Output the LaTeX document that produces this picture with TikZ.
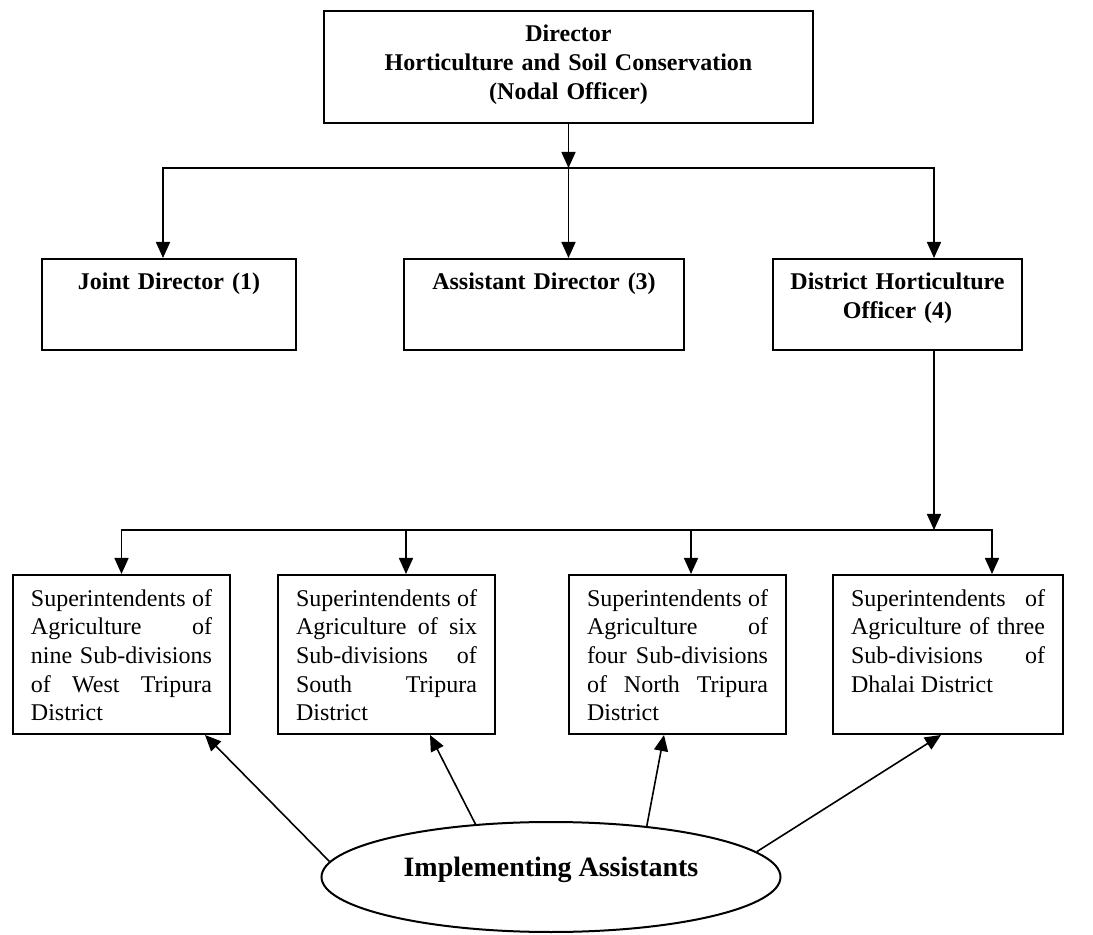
\documentclass[tikz,border=0pt]{standalone}
\usepackage{fontspec}
\setmainfont{Liberation Serif}
\usetikzlibrary{arrows.meta,shapes.geometric}
\tolerance=10000
\hbadness=10000

\begin{document}
\begin{tikzpicture}[x=0.5pt, y=-0.5pt,
    box/.style={draw, line width=1pt, rectangle, inner ysep=0pt, text height=15.5pt, anchor=north west},
    head/.style={box, inner xsep=0pt, align=center, font=\fontsize{12}{14.35}\selectfont\bfseries},
    unit/.style={box, inner xsep=9pt, align=justify, text width=90.5pt, text depth=64pt, font=\fontsize{12}{14.35}\selectfont},
    conn/.style={line width=0.8pt, -{Triangle[length=8pt,width=7pt]}}]

\useasboundingbox (0,0) rectangle (1093,935);

% Nodal officer and the three offices under him
\node[head, text width=244.5pt, text depth=40.5pt] (dir) at (323,10) {Director\\Horticulture and Soil Conservation\\(Nodal Officer)};
\node[head, text width=127pt, text depth=30pt] (jd) at (41,258) {Joint Director (1)};
\node[head, text width=140pt, text depth=30pt] (ad) at (403,258) {Assistant Director (3)};
\node[head, text width=124.5pt, text depth=30pt] (dho) at (772,258) {District Horticulture\\Officer (4)};

% Superintendents of the four districts
\node[unit] (s1) at (12,574) {Superintendents of\linebreak Agriculture of\linebreak nine Sub-divisions\linebreak of West Tripura\linebreak District};
\node[unit] (s2) at (277,574) {Superintendents of\linebreak Agriculture of six\linebreak Sub-divisions of\linebreak South Tripura\linebreak District};
\node[unit] (s3) at (568,574) {Superintendents of\linebreak Agriculture of\linebreak four Sub-divisions\linebreak of North Tripura\linebreak District};
\node[unit, text width=97pt] (s4) at (832,574) {Superintendents of\linebreak Agriculture of three\linebreak Sub-divisions of\linebreak Dhalai District};

\node[draw, line width=1pt, ellipse, minimum width=229.5pt, minimum height=55pt, inner sep=0pt,
      text depth=10pt, font=\fontsize{14}{16}\selectfont\bfseries] (ia) at (551,877) {Implementing Assistants};

% bus lines
\coordinate (bus1) at (0,168);
\coordinate (bus2) at (0,530);
\coordinate (jdin) at ([xshift=-3pt]jd.north);
\coordinate (dhoin) at ([xshift=18.25pt]dho.north);
\coordinate (dhoout) at ([xshift=18.25pt]dho.south);
\coordinate (s2in) at ([xshift=9.75pt]s2.north);
\coordinate (s3in) at ([xshift=6.75pt]s3.north);
\coordinate (s4in) at ([xshift=22pt]s4.north);

\draw[conn] (dir.south) -- (dir.south |- bus1);
\draw[conn] (dir.south |- bus1) -| (jdin);
\draw[conn] (dir.south |- bus1) -- (dir.south |- ad.north);
\draw[conn] (dir.south |- bus1) -| (dhoin);

\draw[conn] (dhoout) -- (dhoout |- bus2);
\draw[conn] (dhoout |- bus2) -| (s1.north);
\draw[conn] (dhoout |- bus2) -| (s2in);
\draw[conn] (dhoout |- bus2) -| (s3in);
\draw[conn] (dhoout |- bus2) -| (s4in);

% assistants report to the superintendents
\draw[conn] (ia.176) -- ([xshift=-13pt]s1.south east);
\draw[conn] (ia.145) -- ([xshift=-33pt]s2.south east);
\draw[conn] (ia.28) -- ([xshift=-6.75pt]s3.south);
\draw[conn] (ia.7) -- ([xshift=-3.5pt]s4.south);

\end{tikzpicture}
\end{document}
